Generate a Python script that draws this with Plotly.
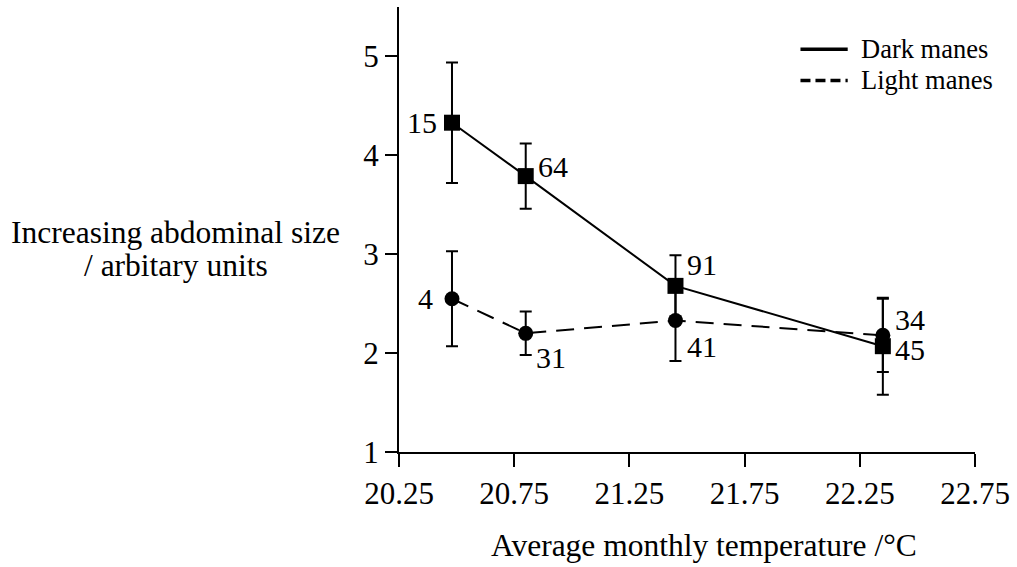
import plotly.graph_objects as go

# Data
temps = [20.48, 20.80, 21.45, 22.35]
dark_mean = [4.33, 3.79, 2.68, 2.07]
dark_err = [0.61, 0.33, 0.31, 0.49]
dark_n = ["15", "64", "91", "45"]
light_mean = [2.55, 2.20, 2.33, 2.18]
light_err = [0.48, 0.22, 0.41, 0.37]
light_n = ["4", "31", "41", "34"]

x_ticks = [20.25, 20.75, 21.25, 21.75, 22.25, 22.75]
x_ticklabels = ["20.25", "20.75", "21.25", "21.75", "22.25", "22.75"]
y_ticks = [1, 2, 3, 4, 5]

series_names = ["Dark manes", "Light manes"]

# label offsets (pixels) for sample-size labels
dark_shift = [(-30, 0), (27, 10), (27, 21), (27, -3)]
light_shift = [(-26, 0), (25, -24), (27, -26), (27, 16)]

FONT = "Liberation Serif"
BLACK = "black"

fig = go.Figure()

fig.add_trace(go.Scatter(
    x=temps, y=light_mean, mode="lines+markers", showlegend=False, name=series_names[1],
    line=dict(color=BLACK, width=2, dash="18px,10px"),
    marker=dict(symbol="circle", size=15, color=BLACK),
    error_y=dict(type="data", array=light_err, color=BLACK, thickness=2, width=6),
))
fig.add_trace(go.Scatter(
    x=temps, y=dark_mean, mode="lines+markers", showlegend=False, name=series_names[0],
    line=dict(color=BLACK, width=2),
    marker=dict(symbol="square", size=16, color=BLACK),
    error_y=dict(type="data", array=dark_err, color=BLACK, thickness=2, width=6),
))

annotations = []
for xv, yv, t, (dx, dy) in zip(temps, dark_mean, dark_n, dark_shift):
    annotations.append(dict(x=xv, y=yv, xref="x", yref="y", text=t, showarrow=False,
                            xshift=dx, yshift=dy, font=dict(family=FONT, size=30, color=BLACK)))
for xv, yv, t, (dx, dy) in zip(temps, light_mean, light_n, light_shift):
    annotations.append(dict(x=xv, y=yv, xref="x", yref="y", text=t, showarrow=False,
                            xshift=dx, yshift=dy, font=dict(family=FONT, size=30, color=BLACK)))

# y-axis title (horizontal, two lines)
annotations.append(dict(x=-0.3875, y=0.494, xref="paper", yref="paper",
                        text="Increasing abdominal size", showarrow=False,
                        xanchor="center", yanchor="middle",
                        font=dict(family=FONT, size=31.5, color=BLACK)))
annotations.append(dict(x=-0.3875, y=0.42, xref="paper", yref="paper",
                        text="/ arbitary units", showarrow=False,
                        xanchor="center", yanchor="middle",
                        font=dict(family=FONT, size=31.5, color=BLACK)))
# x-axis title
annotations.append(dict(x=0.529, y=-0.209, xref="paper", yref="paper",
                        text="Average monthly temperature /°C", showarrow=False,
                        xanchor="center", yanchor="middle",
                        font=dict(family=FONT, size=31.5, color=BLACK)))

# manual legend
legend_rows_y = [0.905, 0.835]
legend_dash = ["solid", "10px,5px"]
shapes = []
for name, ly, dsh in zip(series_names, legend_rows_y, legend_dash):
    shapes.append(dict(type="line", xref="paper", yref="paper",
                       x0=0.697, x1=0.779, y0=ly, y1=ly,
                       line=dict(color=BLACK, width=3.5, dash=dsh)))
    annotations.append(dict(x=0.798, y=ly, xref="paper", yref="paper", text=name,
                            showarrow=False, xanchor="left", yanchor="middle",
                            font=dict(family=FONT, size=26.5, color=BLACK)))

fig.update_layout(
    width=1017, height=567,
    margin=dict(l=399, r=40, t=7, b=115, pad=0),
    paper_bgcolor="white", plot_bgcolor="white",
    font=dict(family=FONT, size=31, color=BLACK),
    showlegend=False,
    annotations=annotations,
    shapes=shapes,
)

fig.update_xaxes(
    range=[20.25, 22.75], tickvals=x_ticks, ticktext=x_ticklabels,
    showline=True, linecolor=BLACK, linewidth=2, showgrid=False, zeroline=False,
    ticks="outside", ticklen=13, tickwidth=2, tickcolor=BLACK,
    tickfont=dict(family=FONT, size=31, color=BLACK),
)
fig.update_yaxes(
    range=[1, 5.5], tickvals=y_ticks,
    showline=True, linecolor=BLACK, linewidth=2, showgrid=False, zeroline=False,
    ticks="outside", ticklen=12, tickwidth=2, tickcolor=BLACK,
    tickfont=dict(family=FONT, size=31, color=BLACK),
)

fig.write_html("out.html", config={"displayModeBar": False},
               post_script="document.body.style.margin='0';")
